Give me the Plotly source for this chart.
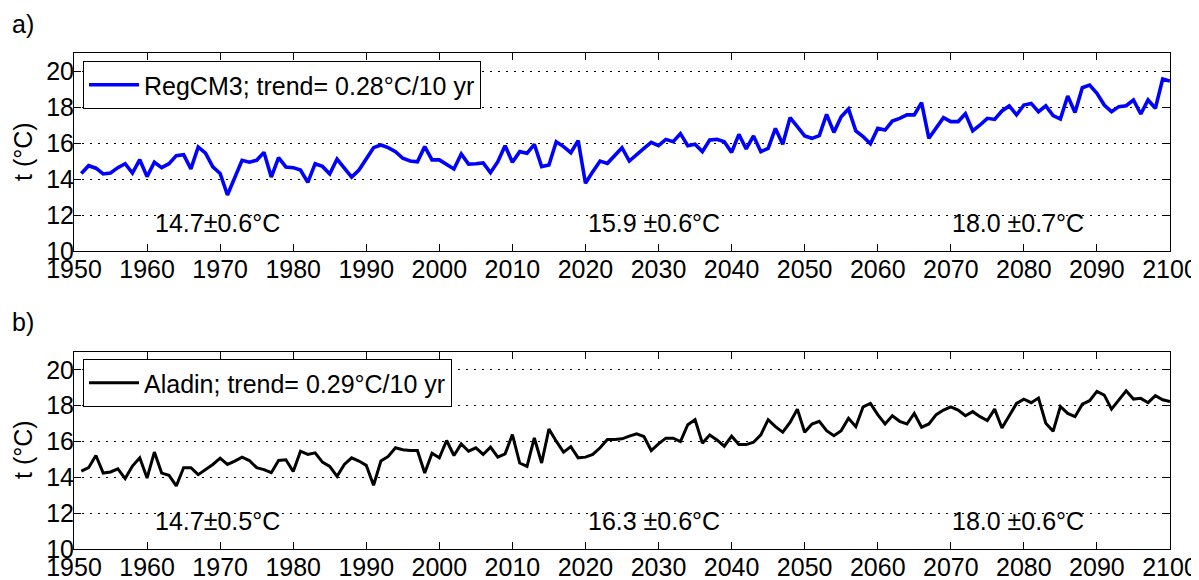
import plotly.graph_objects as go

years = list(range(1951, 2101))

regcm3 = [
    14.31, 14.74, 14.60, 14.28, 14.33, 14.63, 14.85, 14.33, 15.07, 14.13,
    14.93, 14.63, 14.85, 15.30, 15.35, 14.56, 15.78, 15.44, 14.67, 14.31,
    13.11, 14.07, 15.04, 14.93, 15.04, 15.48, 14.11, 15.19, 14.67, 14.63,
    14.50, 13.81, 14.85, 14.70, 14.28, 15.11, 14.60, 14.11, 14.50, 15.15,
    15.74, 15.89, 15.74, 15.52, 15.15, 15.00, 14.96, 15.80, 15.06, 15.06,
    14.78, 14.56, 15.39, 14.83, 14.85, 14.89, 14.35, 14.96, 15.85, 14.93,
    15.52, 15.43, 15.93, 14.69, 14.78, 16.07, 15.80, 15.46, 16.13, 13.76,
    14.41, 15.00, 14.87, 15.33, 15.74, 15.00, 15.37, 15.70, 16.04, 15.85,
    16.20, 16.07, 16.52, 15.85, 15.93, 15.52, 16.17, 16.20, 16.07, 15.48,
    16.48, 15.67, 16.39, 15.52, 15.70, 16.81, 15.93, 17.41, 16.91, 16.39,
    16.26, 16.41, 17.59, 16.59, 17.46, 17.89, 16.67, 16.35, 15.96, 16.81,
    16.72, 17.22, 17.37, 17.56, 17.56, 18.24, 16.26, 16.81, 17.41, 17.19,
    17.19, 17.63, 16.67, 17.00, 17.37, 17.31, 17.78, 18.06, 17.56, 18.11,
    18.20, 17.74, 18.06, 17.52, 17.33, 18.61, 17.70, 19.07, 19.22, 18.76,
    18.11, 17.74, 18.02, 18.07, 18.39, 17.61, 18.39, 17.93, 19.56, 19.44,
]

aladin = [
    14.35, 14.54, 15.22, 14.24, 14.30, 14.48, 13.93, 14.63, 15.09, 13.96,
    15.41, 14.24, 14.11, 13.52, 14.54, 14.54, 14.15, 14.43, 14.72, 15.07,
    14.72, 14.91, 15.13, 14.94, 14.54, 14.43, 14.26, 14.94, 14.98, 14.33,
    15.46, 15.28, 15.37, 14.85, 14.61, 14.06, 14.72, 15.09, 14.91, 14.67,
    13.56, 14.91, 15.17, 15.65, 15.54, 15.50, 15.50, 14.24, 15.35, 15.09,
    16.06, 15.22, 15.87, 15.46, 15.65, 15.28, 15.69, 15.13, 15.31, 16.39,
    14.80, 14.61, 16.20, 14.80, 16.70, 16.02, 15.41, 15.72, 15.09, 15.13,
    15.28, 15.65, 16.11, 16.11, 16.15, 16.30, 16.43, 16.28, 15.50, 15.87,
    16.19, 16.19, 16.00, 16.94, 17.22, 15.91, 16.37, 16.09, 15.74, 16.30,
    15.83, 15.83, 15.96, 16.37, 17.22, 16.83, 16.52, 17.07, 17.81, 16.52,
    16.98, 17.13, 16.61, 16.33, 16.61, 17.30, 16.83, 17.94, 18.13, 17.50,
    16.98, 17.44, 17.13, 16.98, 17.57, 16.80, 16.98, 17.50, 17.76, 17.94,
    17.76, 17.44, 17.67, 17.39, 17.17, 17.81, 16.76, 17.44, 18.13, 18.37,
    18.17, 18.43, 17.02, 16.57, 17.96, 17.57, 17.39, 18.09, 18.28, 18.80,
    18.59, 17.81, 18.31, 18.83, 18.37, 18.41, 18.17, 18.56, 18.33, 18.24,
]

names = ["RegCM3; trend= 0.28°C/10 yr", "Aladin; trend= 0.29°C/10 yr"]
period_years = [1969.7, 2029.4, 2079.2]
stats_a = ["14.7±0.6°C", "15.9 ±0.6°C", "18.0 ±0.7°C"]
stats_b = ["14.7±0.5°C", "16.3 ±0.6°C", "18.0 ±0.6°C"]
stat_level = 11.56
x_ticks = list(range(1950, 2101, 10))
y_ticks = [10, 12, 14, 16, 18, 20]
y_title = "t (°C)"

# page body has an 8px default margin; size the figure to the visible window
OFF = 8
W, H = 1199 - OFF, 580 - OFF
FONT = "Liberation Sans, Arial, sans-serif"
fs = 25


def px_x(v):
    return (v - OFF) / W


def px_y(v):
    return (H - (v - OFF)) / H


fig = go.Figure()
fig.add_trace(go.Scatter(x=years, y=regcm3, mode="lines", name=names[0],
                         line=dict(color="#0000FF", width=3.6),
                         xaxis="x", yaxis="y", legend="legend"))
fig.add_trace(go.Scatter(x=years, y=aladin, mode="lines", name=names[1],
                         line=dict(color="#000000", width=3),
                         xaxis="x2", yaxis="y2", legend="legend2"))

xcommon = dict(range=[1950, 2100], tickvals=x_ticks, ticks="inside", ticklen=7,
               tickcolor="black", showline=True, linecolor="black", linewidth=1,
               mirror="ticks", showgrid=False, zeroline=False,
               tickfont=dict(family=FONT, size=fs, color="black"),
               ticklabelstandoff=-4,
               domain=[px_x(74), px_x(1170)], automargin=False)
ycommon = dict(range=[10, 21], tickvals=y_ticks, ticks="inside", ticklen=7,
               tickcolor="black", showline=True, linecolor="black", linewidth=1,
               mirror="ticks", showgrid=True, gridcolor="black", gridwidth=1,
               griddash="2px,6px", zeroline=False,
               tickfont=dict(family=FONT, size=fs, color="black"),
               ticklabelstandoff=-6,
               automargin=False)

leg_common = dict(xanchor="left", yanchor="top", bgcolor="white",
                  bordercolor="black", borderwidth=1, itemwidth=50,
                  font=dict(family=FONT, size=fs, color="black"))

fig.update_layout(
    width=W, height=H,
    margin=dict(l=0, r=0, t=0, b=0),
    paper_bgcolor="white", plot_bgcolor="white",
    xaxis=dict(**xcommon, anchor="y"),
    yaxis=dict(**ycommon, anchor="x", domain=[px_y(251), px_y(53)]),
    xaxis2=dict(**xcommon, anchor="y2"),
    yaxis2=dict(**ycommon, anchor="x2", domain=[px_y(549), px_y(352)]),
    legend=dict(x=px_x(83), y=px_y(61), **leg_common),
    legend2=dict(x=px_x(83), y=px_y(359), **leg_common),
    showlegend=True,
)

for xv, txt in zip(period_years, stats_a):
    fig.add_annotation(x=xv, y=stat_level, xref="x", yref="y", text=txt,
                       showarrow=False, font=dict(family=FONT, size=fs, color="black"))
for xv, txt in zip(period_years, stats_b):
    fig.add_annotation(x=xv, y=stat_level, xref="x2", yref="y2", text=txt,
                       showarrow=False, font=dict(family=FONT, size=fs, color="black"))

# y-axis titles
for yc in (152, 450):
    fig.add_annotation(x=px_x(23), y=px_y(yc), xref="paper", yref="paper",
                       text=y_title, textangle=-90, showarrow=False,
                       xanchor="center", yanchor="middle",
                       font=dict(family=FONT, size=fs, color="black"))

fig.add_annotation(x=px_x(10), y=px_y(24), xref="paper", yref="paper", text="a)",
                   showarrow=False, xanchor="left", yanchor="middle",
                   font=dict(family=FONT, size=fs, color="black"))
fig.add_annotation(x=px_x(10), y=px_y(322), xref="paper", yref="paper", text="b)",
                   showarrow=False, xanchor="left", yanchor="middle",
                   font=dict(family=FONT, size=fs, color="black"))

fig.write_html("out.html")
